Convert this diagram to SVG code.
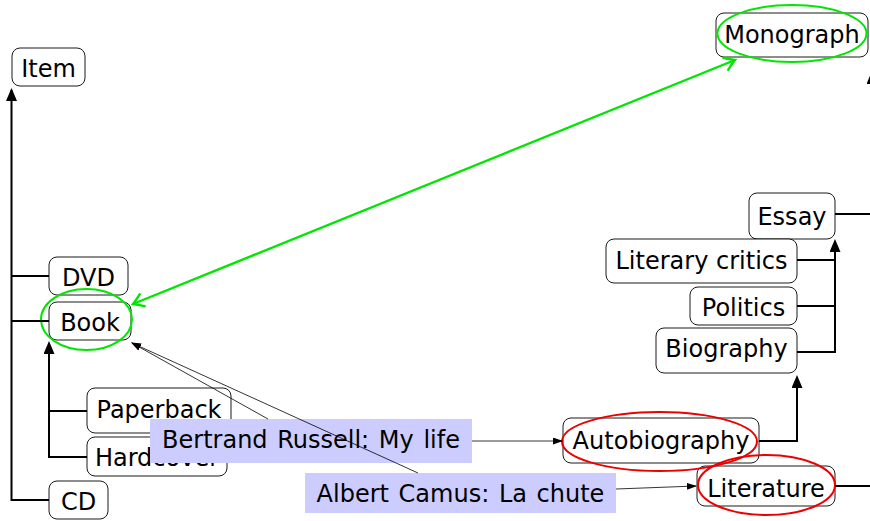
<svg xmlns="http://www.w3.org/2000/svg" width="870" height="521" viewBox="0 0 870 521">
  <style>
    .box { fill: #ffffff; stroke: #000000; stroke-width: 0.9; }
    .lbl { fill: #ccccff; stroke: none; }
    text { font-family: "DejaVu Sans", "Liberation Sans", sans-serif; font-size: 24px; fill: #000000; }
    .c { text-anchor: middle; }
    .tag { word-spacing: 2px; }
    .tree { fill: none; stroke: #000000; stroke-width: 2; }
    .thin { fill: none; stroke: #000000; stroke-width: 0.8; }
    .grn { fill: none; stroke: #00e600; stroke-width: 2.4; }
    .ring-g { fill: none; stroke: #00e600; stroke-width: 2; }
    .ring-r { fill: none; stroke: #ee0000; stroke-width: 2; }
  </style>
  <defs>
    <marker id="big" markerUnits="userSpaceOnUse" viewBox="0 0 13 11" markerWidth="13" markerHeight="11" refX="11" refY="5.5" orient="auto">
      <path d="M0,0 L13,5.5 L0,11 z" fill="#000000"/>
    </marker>
    <marker id="small" markerUnits="userSpaceOnUse" viewBox="0 0 10 7" markerWidth="10" markerHeight="7" refX="9" refY="3.5" orient="auto">
      <path d="M0,0 L10,3.5 L0,7 z" fill="#000000"/>
    </marker>
    <marker id="chev" markerUnits="userSpaceOnUse" viewBox="-12 -8 14 16" markerWidth="14" markerHeight="16" refX="0" refY="0" orient="auto-start-reverse">
      <path d="M-10,-6.5 Q-3,-1.5 0,0 Q-3,1.5 -10,6.5" fill="none" stroke="#00e600" stroke-width="2.4" stroke-linecap="round"/>
    </marker>
  </defs>

  <!-- category nodes -->
  <g id="item"><rect class="box" x="12" y="48" width="73" height="38" rx="8"/><text class="c" x="48.5" y="77">Item</text></g>
  <g id="dvd"><rect class="box" x="49" y="257" width="79" height="38" rx="8"/><text class="c" x="88.5" y="286">DVD</text></g>
  <g id="book"><rect class="box" x="49" y="302" width="82" height="38" rx="8"/><text class="c" x="90" y="331">Book</text></g>
  <g id="paperback"><rect class="box" x="87" y="388" width="144" height="45" rx="8"/><text class="c" x="159" y="418">Paperback</text></g>
  <g id="hardcover"><rect class="box" x="87" y="437" width="140" height="39" rx="8"/><text class="c" x="157" y="466">Hardcover</text></g>
  <g id="cd"><rect class="box" x="49" y="481" width="59" height="38" rx="8"/><text class="c" x="78.5" y="510">CD</text></g>
  <g id="monograph"><rect class="box" x="716" y="13" width="152" height="44" rx="8"/><text class="c" x="792" y="43">Monograph</text></g>
  <g id="essay"><rect class="box" x="749" y="193" width="86" height="46" rx="8"/><text class="c" x="792" y="225">Essay</text></g>
  <g id="literary-critics"><rect class="box" x="606" y="239" width="191" height="44" rx="8"/><text class="c" x="701.5" y="268.5">Literary critics</text></g>
  <g id="politics"><rect class="box" x="690" y="287" width="107" height="38" rx="8"/><text class="c" x="743.5" y="315.5">Politics</text></g>
  <g id="biography"><rect class="box" x="656" y="328" width="141" height="45" rx="8"/><text class="c" x="726.5" y="357">Biography</text></g>
  <g id="autobiography"><rect class="box" x="563" y="418" width="196" height="45" rx="8"/><text class="c" x="661" y="449">Autobiography</text></g>
  <g id="literature"><rect class="box" x="697" y="466" width="138" height="40" rx="8"/><text class="c" x="766" y="496.5">Literature</text></g>

  <!-- instance labels -->
  <g id="russell"><rect class="lbl" x="150" y="419" width="322" height="44"/><text class="c tag" x="311" y="448">Bertrand Russell: My life</text></g>
  <g id="camus"><rect class="lbl" x="305" y="473" width="311" height="40"/><text class="c tag" x="460.5" y="502">Albert Camus: La chute</text></g>

  <!-- highlight rings -->
  <g id="rings">
    <ellipse class="ring-g" cx="86.5" cy="319.5" rx="45.5" ry="30.5"/>
    <ellipse class="ring-g" cx="792" cy="33.5" rx="74.5" ry="28.5"/>
    <ellipse class="ring-r" cx="659.5" cy="441.5" rx="97.5" ry="29.5"/>
    <ellipse class="ring-r" cx="766.5" cy="485" rx="68.5" ry="30"/>
  </g>

  <g id="connectors">
    <!-- subclass tree -->
    <path class="tree" d="M49,500 H11.5 V90" marker-end="url(#big)"/>
    <path class="tree" d="M49,276 H11.5"/>
    <path class="tree" d="M49,321 H11.5"/>
    <path class="tree" d="M87,457 H49 V343" marker-end="url(#big)"/>
    <path class="tree" d="M87,411 H49"/>
    <path class="tree" d="M797,352 H835 V241" marker-end="url(#big)"/>
    <path class="tree" d="M797,260 H835"/>
    <path class="tree" d="M797,306 H835"/>
    <path class="tree" d="M759,441 H797 V377" marker-end="url(#big)"/>
    <path class="tree" d="M835,214 H872 V73" marker-end="url(#big)"/>
    <path class="tree" d="M835,486 H872"/>
    <!-- equivalence -->
    <path class="grn" d="M133,304 L735,60" marker-start="url(#chev)" marker-end="url(#chev)"/>
    <!-- instance links -->
    <path class="thin" d="M472,441 H562" marker-end="url(#small)"/>
    <path class="thin" d="M616,489 L696,486" marker-end="url(#small)"/>
    <path class="thin" d="M268,419 L132,343" marker-end="url(#small)"/>
    <path class="thin" d="M418,473 L132,343" marker-end="url(#small)"/>
  </g>
</svg>
